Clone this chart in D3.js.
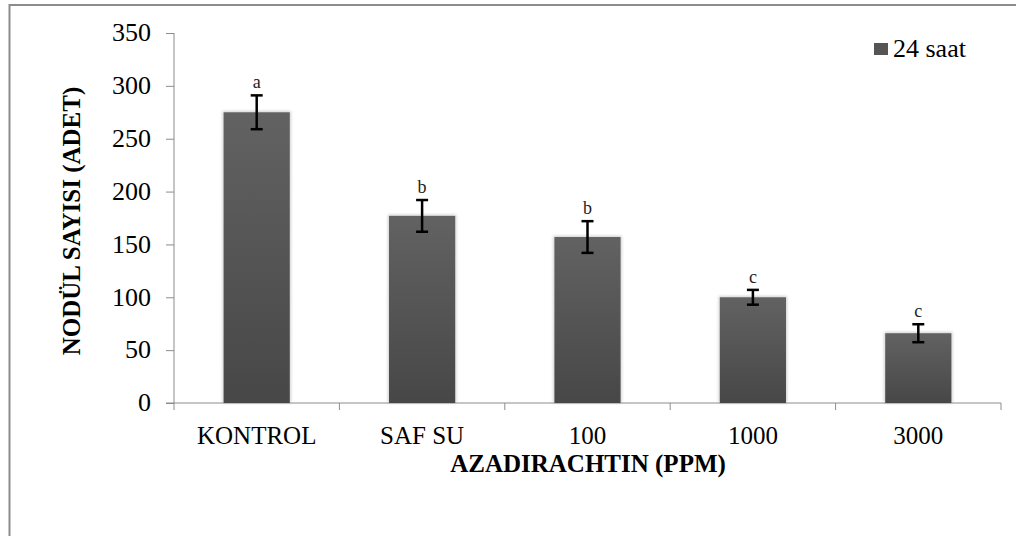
<!DOCTYPE html>
<html>
<head>
<meta charset="utf-8">
<script src="https://cdn.jsdelivr.net/npm/d3@7"></script>
<style>
  html, body { margin: 0; padding: 0; background: #fff; }
  svg { display: block; }
</style>
</head>
<body>
<svg id="chart" width="1016" height="536"></svg>
<script>
// Nodule counts after 24 h, per azadirachtin treatment
const categories = ["KONTROL", "SAF SU", "100", "1000", "3000"];
const values = [275, 177, 157, 100, 66];
const errors = [16, 15, 15, 7, 8.5];
const letters = ["a", "b", "b", "c", "c"];
const yTicks = [0, 50, 100, 150, 200, 250, 300, 350];
const seriesName = "24 saat";

const svg = d3.select("#chart");
const font = "'Liberation Serif', 'Times New Roman', serif";

// outer frame
svg.append("rect")
  .attr("x", 9.5).attr("y", 5).attr("width", 1020).attr("height", 540)
  .attr("fill", "none").attr("stroke", "#8c8c8c").attr("stroke-width", 2);

const x0 = 174, x1 = 1001, yTop = 33, yBot = 403;

const x = d3.scaleBand().domain(categories).range([x0, x1]).paddingInner(0.6).paddingOuter(0.3);
const xc = d3.scaleBand().domain(categories).range([x0, x1]);
const y = d3.scaleLinear().domain([0, 350]).range([yBot, yTop]);

const defs = svg.append("defs");
const grad = defs.append("linearGradient").attr("id", "barGrad")
  .attr("x1", 0).attr("y1", 0).attr("x2", 0).attr("y2", 1);
grad.append("stop").attr("offset", "0%").attr("stop-color", "#626262");
grad.append("stop").attr("offset", "100%").attr("stop-color", "#474747");
const blur = defs.append("filter").attr("id", "shadow").attr("x", "-20%").attr("y", "-20%").attr("width", "140%").attr("height", "140%");
blur.append("feGaussianBlur").attr("stdDeviation", 1.5);

// y axis
const yAxis = svg.append("g").attr("transform", `translate(${x0},0)`)
  .call(d3.axisLeft(y).tickValues(yTicks).tickSize(8).tickPadding(15));
yAxis.select(".domain").attr("stroke", "#8c8c8c").attr("d", `M0,${yTop}V${yBot}`);
yAxis.selectAll(".tick line").attr("stroke", "#8c8c8c");
yAxis.selectAll(".tick text").attr("font-family", font).attr("font-size", 26).attr("fill", "#000")
  .attr("dy", "0.3em");

// x axis line and category ticks
const xAxis = svg.append("g").attr("transform", `translate(0,${yBot})`);
xAxis.append("line").attr("x1", x0 - 8).attr("x2", x1).attr("y1", 0).attr("y2", 0)
  .attr("stroke", "#8c8c8c");
xAxis.selectAll("line.ct").data(categories.map(c => xc(c)).concat([x1]))
  .join("line").attr("class", "ct")
  .attr("x1", d => d).attr("x2", d => d).attr("y1", 0).attr("y2", 7)
  .attr("stroke", "#8c8c8c");
xAxis.selectAll("text").data(categories).join("text")
  .attr("x", d => xc(d) + xc.bandwidth() / 2).attr("y", 41)
  .attr("text-anchor", "middle").attr("font-family", font).attr("font-size", 25)
  .text(d => d);

// bars
const bars = svg.append("g");
bars.selectAll("rect.sh").data(values).join("rect").attr("class", "sh")
  .attr("x", (d, i) => x(categories[i]) - 1).attr("y", d => y(d) - 1)
  .attr("width", x.bandwidth() + 2).attr("height", d => y(0) - y(d) + 1)
  .attr("fill", "#999").attr("opacity", 0.5).attr("filter", "url(#shadow)");
bars.selectAll("rect.bar").data(values).join("rect").attr("class", "bar")
  .attr("x", (d, i) => x(categories[i])).attr("y", d => y(d))
  .attr("width", x.bandwidth()).attr("height", d => y(0) - y(d))
  .attr("fill", "url(#barGrad)");

// error bars
const eb = svg.append("g").attr("stroke", "#000").attr("stroke-width", 2.5);
values.forEach((v, i) => {
  const cx = x(categories[i]) + x.bandwidth() / 2;
  const hi = y(v + errors[i]), lo = y(v - errors[i]);
  eb.append("line").attr("x1", cx).attr("x2", cx).attr("y1", hi).attr("y2", lo);
  eb.append("line").attr("x1", cx - 6).attr("x2", cx + 6).attr("y1", hi).attr("y2", hi);
  eb.append("line").attr("x1", cx - 6).attr("x2", cx + 6).attr("y1", lo).attr("y2", lo);
});

// significance letters
svg.append("g").selectAll("text").data(values).join("text")
  .attr("x", (d, i) => x(categories[i]) + x.bandwidth() / 2)
  .attr("y", (d, i) => y(d + errors[i]) - 7)
  .attr("text-anchor", "middle").attr("font-family", font).attr("font-size", 18)
  .attr("fill", "#222")
  .text((d, i) => letters[i]);

// axis titles
svg.append("text")
  .attr("transform", `translate(80,221) rotate(-90)`)
  .attr("text-anchor", "middle").attr("font-family", font).attr("font-size", 25)
  .attr("font-weight", "bold").text("NODÜL SAYISI (ADET)");
svg.append("text")
  .attr("x", 588).attr("y", 472)
  .attr("text-anchor", "middle").attr("font-family", font).attr("font-size", 25)
  .attr("font-weight", "bold").text("AZADIRACHTIN (PPM)");

// legend
const lg = svg.append("g").attr("transform", "translate(874,43)");
lg.append("rect").attr("width", 14).attr("height", 12).attr("fill", "#555");
lg.append("text").attr("x", 19).attr("y", 14).attr("font-family", font).attr("font-size", 26)
  .text(seriesName);
</script>
</body>
</html>
